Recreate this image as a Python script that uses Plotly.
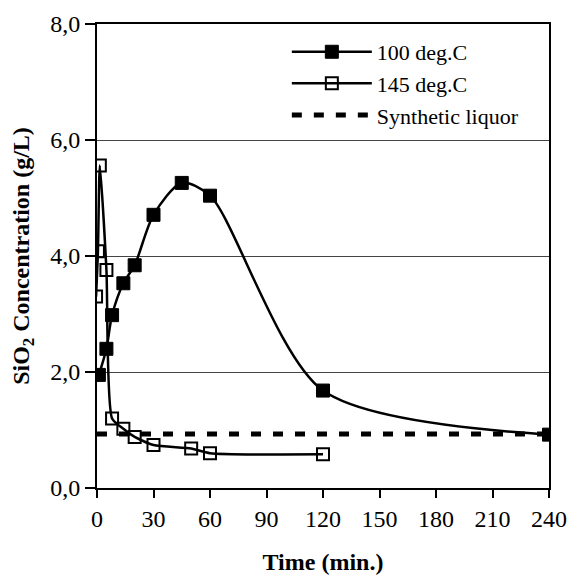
import plotly.graph_objects as go

t100 = [1, 5, 8, 14, 20, 30, 45, 60, 120, 240]
c100 = [1.95, 2.40, 2.98, 3.53, 3.84, 4.71, 5.26, 5.04, 1.68, 0.92]

t145 = [-0.5, 0.5, 1.5, 5, 8, 14, 20, 30, 50, 60, 120]
c145 = [3.30, 4.08, 5.56, 3.76, 1.20, 1.02, 0.88, 0.74, 0.68, 0.60, 0.58]

t_syn = [0, 240]
c_syn = [0.93, 0.93]

x_ticks = [0, 30, 60, 90, 120, 150, 180, 210, 240]
y_ticks = [0, 2, 4, 6, 8]
y_labels = ["0,0", "2,0", "4,0", "6,0", "8,0"]

font = "Liberation Serif, Times New Roman, serif"

fig = go.Figure()
fig.add_trace(go.Scatter(
    x=t100, y=c100, name="100 deg.C", mode="lines+markers",
    line=dict(color="black", width=2.5, shape="spline", smoothing=0.8),
    marker=dict(symbol="square", size=13, color="black", line=dict(color="black", width=1)),
))
fig.add_trace(go.Scatter(
    x=t145, y=c145, name="145 deg.C", mode="lines+markers",
    line=dict(color="black", width=2.5, shape="spline", smoothing=0.6),
    marker=dict(symbol="square-open", size=12, color="black", line=dict(color="black", width=2)),
))
fig.add_trace(go.Scatter(
    x=t_syn, y=c_syn, name="Synthetic liquor", mode="lines",
    line=dict(color="black", width=5, dash="10px,12px"),
))

fig.update_layout(
    width=569, height=579,
    margin=dict(l=97, r=20, t=24, b=91),
    paper_bgcolor="white", plot_bgcolor="white",
    font=dict(family=font, size=22, color="black"),
    showlegend=True,
    legend=dict(x=0.42, y=0.985, xanchor="left", yanchor="top",
                bgcolor="rgba(0,0,0,0)", borderwidth=0,
                font=dict(family=font, size=22), itemwidth=80,
                tracegroupgap=0),
    xaxis=dict(
        range=[0, 240], tickvals=x_ticks, ticktext=[str(v) for v in x_ticks],
        showgrid=False, zeroline=False, automargin=False,
        showline=True, linecolor="black", linewidth=2, mirror=True,
        ticks="outside", ticklen=8, tickwidth=1.5, tickcolor="black",
        tickfont=dict(family=font, size=24),
        title=dict(text="<b>Time (min.)</b>", font=dict(family=font, size=24), standoff=22),
    ),
    yaxis=dict(
        range=[0, 8], tickvals=y_ticks, ticktext=y_labels,
        showgrid=True, gridcolor="#444", gridwidth=1, zeroline=False, automargin=False,
        showline=True, linecolor="black", linewidth=2, mirror=True,
        ticks="outside", ticklen=10, tickwidth=1.5, tickcolor="black",
        tickfont=dict(family=font, size=24),
        title=dict(text="<b>SiO<sub>2</sub> Concentration (g/L)</b>", font=dict(family=font, size=24), standoff=14),
    ),
)

fig.write_html("out.html")
